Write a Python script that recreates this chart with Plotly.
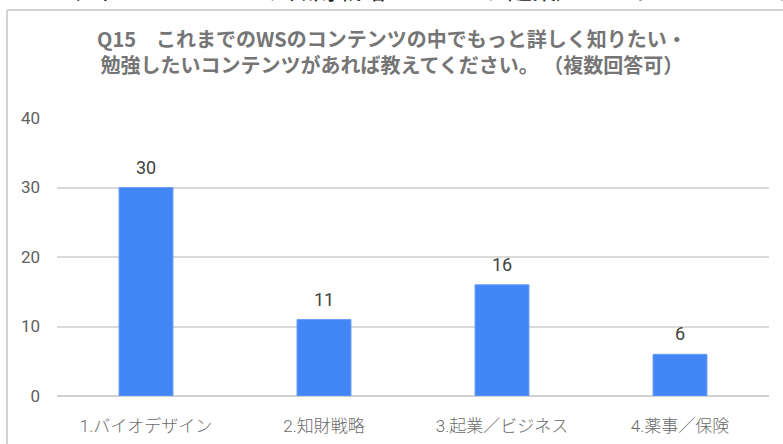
import plotly.graph_objects as go

categories = ["1.バイオデザイン", "2.知財戦略", "3.起業／ビジネス", "4.薬事／保険"]
values = [30, 11, 16, 6]
y_ticks = [0, 10, 20, 30, 40]
title_text = "Q15　これまでのWSのコンテンツの中でもっと詳しく知りたい・<br>勉強したいコンテンツがあれば教えてください。 （複数回答可）"
clipped_text = "オデザイン　ー　30、知財戦略　ー　11、起業／ビジネス　ー　16、薬事／保険　ー　6"

W, H = 783, 444
ML, MR, MT, MB = 57, 14, 118, 48
PW = W - ML - MR
PH = H - MT - MB

def px_x(x):
    return (x - ML) / PW

def px_y(y):
    return (H - MB - y) / PH

fig = go.Figure()
fig.add_trace(go.Bar(
    x=categories, y=values,
    marker=dict(color="#4285f4", line=dict(color="#6b9ff6", width=1)),
    hoverinfo="skip",
))

for c, v in zip(categories, values):
    fig.add_annotation(x=c, y=v, xref="x", yref="y", text=str(v), showarrow=False,
                       yanchor="bottom", yshift=8,
                       font=dict(family="Roboto, Noto Sans CJK JP", size=18, color="#424242"))

fig.add_annotation(xref="paper", yref="paper", x=px_x(392), y=px_y(52), xanchor="center",
                   yanchor="middle", text="<b>" + title_text + "</b>", showarrow=False,
                   font=dict(family="Noto Sans CJK JP", size=20, color="#757575"))

fig.add_annotation(xref="paper", yref="paper", x=px_x(45), y=px_y(8), xanchor="left",
                   yanchor="bottom", text=clipped_text, showarrow=False,
                   font=dict(family="Noto Sans CJK JP", size=24, color="#222222"))

# border of the embedded chart image
fig.add_shape(type="line", xref="paper", yref="paper", x0=px_x(7), x1=px_x(7),
              y0=px_y(10), y1=px_y(H + 5), line=dict(color="#d2d2d2", width=2))
fig.add_shape(type="line", xref="paper", yref="paper", x0=px_x(7), x1=px_x(W + 5),
              y0=px_y(10), y1=px_y(10), line=dict(color="#d2d2d2", width=2))

fig.update_layout(
    width=W, height=H,
    margin=dict(l=ML, r=MR, t=MT, b=MB),
    paper_bgcolor="white", plot_bgcolor="white",
    bargap=0.697,
    showlegend=False,
    font=dict(family="Roboto, Noto Sans CJK JP"),
)
fig.update_xaxes(showgrid=False, showline=False, zeroline=False, ticks="", automargin=False,
                 tickfont=dict(family="Roboto, Noto Sans CJK JP", size=17, color="#6a6a6a", weight=300),
                 ticklabelstandoff=18)
fig.update_yaxes(range=[0, 40], tickvals=y_ticks, showgrid=True, gridcolor="#dadada",
                 gridwidth=1.5, zeroline=True, zerolinecolor="#d0d0d0", zerolinewidth=1.5,
                 showline=False, ticks="", automargin=False,
                 tickfont=dict(family="Roboto, Noto Sans CJK JP", size=17, color="#5f5f5f"),
                 ticklabelstandoff=16)

fig.write_html("out.html", config={"displayModeBar": False},
               post_script="document.body.style.margin='0';document.body.style.overflow='hidden';")
